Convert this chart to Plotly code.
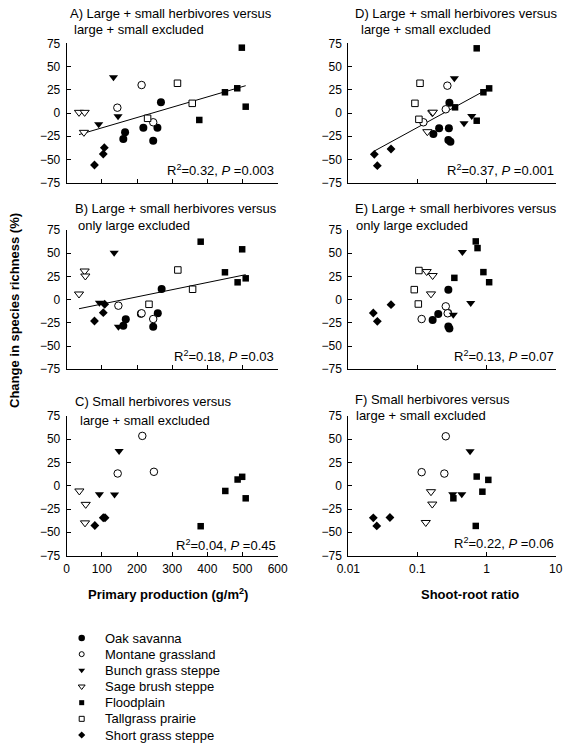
import math
import plotly.graph_objects as go

# ---------------- data ----------------
SITE_KEYS = ["oak", "mont", "bunch", "sage", "flood", "tall", "short"]
SITE_NAMES = ["Oak savanna", "Montane grassland", "Bunch grass steppe",
              "Sage brush steppe", "Floodplain", "Tallgrass prairie",
              "Short grass steppe"]

CHANGE_TICKS = [-75, -50, -25, 0, 25, 50, 75]
PROD_TICKS = [0, 100, 200, 300, 400, 500, 600]
RATIO_TICKS = [0.01, 0.1, 1, 10]
RATIO_TICK_TEXT = ["0.01", "0.1", "1", "10"]

# site of each point in panels A, B, D, E
SITES_26 = ["oak", "oak", "oak", "oak", "oak", "oak",
            "mont", "mont", "mont",
            "bunch", "bunch", "bunch",
            "sage", "sage", "sage",
            "flood", "flood", "flood", "flood", "flood",
            "tall", "tall", "tall",
            "short", "short", "short"]
# site of each point in panels C, F
SITES_17 = ["mont", "mont", "mont",
            "bunch", "bunch", "bunch",
            "sage", "sage", "sage",
            "flood", "flood", "flood", "flood", "flood",
            "short", "short", "short"]

a_prod = [166, 161, 218, 258, 246, 268, 144, 213, 246, 133, 91, 146, 35, 51, 49,
          498, 485, 450, 509, 377, 315, 357, 230, 79, 104, 107]
a_change = [-20.8, -28, -15.8, -15.8, -29.8, 11.5, 5.7, 30.1, -10, 38.4, -12, -3.5,
            0.7, 0.7, -20.8, 70.3, 26.6, 22.3, 6.8, -7.5, 32, 10.4, -5.7, -56, -44.1, -37.3]

b_prod = [168, 161, 211, 259, 246, 270, 147, 213, 246, 135, 93, 147, 51, 53, 35,
          381, 499, 450, 486, 509, 316, 358, 234, 79, 104, 108]
b_change = [-21.2, -28.1, -15.2, -14.7, -29.2, 11.5, -6.5, -14.7, -20.9, 50.6, -3.3, -29.2,
            30.9, 25.5, 6.1, 62.5, 54.3, 29.5, 18.7, 23, 32, 11.2, -5, -23, -14, -5]

c_prod = [215, 145, 248, 149, 93, 136, 36, 54, 52, 381, 451, 486, 499, 509, 80, 104, 109]
c_change = [53.6, 13.2, 15, 37.3, -9.2, -9.5, -5.6, -20, -39.9, -43.5, -5.6, 6.7, 9.6,
            -13.5, -42.7, -34.4, -34.4]

d_ratio = [0.170, 0.206, 0.290, 0.285, 0.28, 0.30, 0.122, 0.257, 0.271, 0.342, 0.472, 0.61,
           0.164, 0.167, 0.139, 0.72, 0.90, 1.09, 0.35, 0.72, 0.109, 0.092, 0.105,
           0.0238, 0.0263, 0.0415]
d_change = [-22.6, -16.5, 11.1, -16.5, -29, -30.9, -10, 4, 29.4, 37.3, -11.1, -3.2,
            0.3, 0.9, -20.1, 69.6, 22.3, 26.5, 6.1, -8.3, 32, 10.4, -6.8, -44.5, -56.7, -38.7]

e_ratio = [0.28, 0.20, 0.166, 0.28, 0.29, 0.278, 0.257, 0.274, 0.115, 0.447, 0.59, 0.33,
           0.136, 0.166, 0.157, 0.698, 0.74, 0.90, 1.09, 0.342, 0.105, 0.090, 0.103,
           0.023, 0.0263, 0.0415]
e_change = [10.8, -15.5, -22, -28.9, -31, -14.3, -7.2, -14.7, -20.9, 51.3, -3.6, -16.2,
            30.3, 26, 6.2, 62.8, 55.6, 29.7, 18.8, 23.5, 31.4, 10.8, -4.7, -14.4, -23.4, -5.4]

f_ratio = [0.257, 0.115, 0.245, 0.577, 0.438, 0.324, 0.157, 0.164, 0.132, 0.72, 1.06, 0.87,
           0.331, 0.698, 0.023, 0.0258, 0.040]
f_change = [53.2, 14.6, 13.1, 37, -9.2, -9.2, -6.4, -19.7, -39.5, 9.9, 6.3, -6.4, -13.5,
            -43.2, -34.5, -43.2, -34.1]

# fitted regressions: (intercept, slope); D is fitted against log10(ratio)
FIT_A = (-27.1, 0.111)
FIT_B = (-12.5, 0.0775)
FIT_D = (25.1, 40.66)

STATS = {
    "A": "R<sup>2</sup>=0.32, <i>P</i> =0.003",
    "B": "R<sup>2</sup>=0.18, <i>P</i> =0.03",
    "C": "R<sup>2</sup>=0.04, <i>P</i> =0.45",
    "D": "R<sup>2</sup>=0.37, <i>P</i> =0.001",
    "E": "R<sup>2</sup>=0.13, <i>P</i> =0.07",
    "F": "R<sup>2</sup>=0.22, <i>P</i> =0.06",
}
TITLES = {
    "A": ("A) Large + small herbivores versus", "large + small excluded"),
    "B": ("B) Large + small herbivores versus", "only large excluded"),
    "C": ("C) Small herbivores versus", "large + small excluded"),
    "D": ("D) Large + small herbivores versus", "large + small excluded"),
    "E": ("E) Large + small herbivores versus", "only large excluded"),
    "F": ("F) Small herbivores versus", "large + small excluded"),
}

# ---------------- styling / layout ----------------
W, H = 564, 744
FONT = "Arial, Liberation Sans, sans-serif"


def px(x):
    return x / W


def py(y):
    return 1 - y / H


STYLE = {
    "oak": dict(symbol="circle", size=8, fill=True, leg=6.5),
    "mont": dict(symbol="circle", size=7.5, fill=False, leg=5),
    "bunch": dict(symbol="triangle-down", size=8, fill=True, leg=6),
    "sage": dict(symbol="triangle-down", size=8, fill=False, leg=6),
    "flood": dict(symbol="square", size=6.5, fill=True, leg=5),
    "tall": dict(symbol="square", size=6.5, fill=False, leg=5),
    "short": dict(symbol="diamond", size=6.8, fill=True, leg=5.5),
}


def marker(key, size=None):
    st = STYLE[key]
    return dict(symbol=st["symbol"], size=size or st["size"],
                color="black" if st["fill"] else "white",
                line=dict(color="black", width=0 if st["fill"] else 1))


COLS = {"L": (66.7, 277.7), "R": (348.3, 555.7)}
ROWS = {0: (43.3, 182.7), 1: (230.1, 369.2), 2: (416.0, 555.5)}

PANELS = [
    # name, col, row, sites, x, y, log-x, fit, labelled x ticks
    ("A", "L", 0, SITES_26, a_prod, a_change, False, FIT_A, False),
    ("B", "L", 1, SITES_26, b_prod, b_change, False, FIT_B, False),
    ("C", "L", 2, SITES_17, c_prod, c_change, False, None, True),
    ("D", "R", 0, SITES_26, d_ratio, d_change, True, FIT_D, False),
    ("E", "R", 1, SITES_26, e_ratio, e_change, True, None, False),
    ("F", "R", 2, SITES_17, f_ratio, f_change, True, None, True),
]

TITLE_POS = {
    "A": ((68.0, 13.3), (71.7, 30.0)),
    "B": ((72.7, 208.3), (76.0, 225.0)),
    "C": ((72.7, 401.7), (78.3, 420.0)),
    "D": ((352.7, 13.3), (359.3, 30.0)),
    "E": ((352.7, 208.3), (354.0, 226.0)),
    "F": ((352.7, 399.0), (354.0, 416.0)),
}
STAT_POS = {"A": (276, 170), "B": (276, 355.7), "C": (278, 545),
            "D": (556, 170), "E": (556, 355.7), "F": (556, 543)}

fig = go.Figure()
layout = {}
annotations = []

axis_common = dict(showline=True, linecolor="black", linewidth=1, ticks="inside",
                   ticklen=4, tickwidth=1, tickcolor="black", showgrid=False,
                   zeroline=False, automargin=False,
                   tickfont=dict(size=12, color="black", family=FONT))

for i, (name, col, row, sites, xs, ys, logx, fit, xlabels) in enumerate(PANELS, start=1):
    xa = "x" if i == 1 else f"x{i}"
    ya = "y" if i == 1 else f"y{i}"
    x0, x1 = COLS[col]
    y0, y1 = ROWS[row]
    xaxis = dict(axis_common, domain=[px(x0), px(x1)], anchor=ya,
                 showticklabels=xlabels, ticklabelstandoff=2)
    if logx:
        xaxis.update(type="log", range=[-2, 1], tickvals=RATIO_TICKS,
                     ticktext=RATIO_TICK_TEXT)
    else:
        xaxis.update(range=[0, 600], tickvals=PROD_TICKS)
    yaxis = dict(axis_common, domain=[py(y1), py(y0)], anchor=xa,
                 range=[-75, 75], tickvals=CHANGE_TICKS, ticklabelstandoff=3)
    layout["xaxis" if i == 1 else f"xaxis{i}"] = xaxis
    layout["yaxis" if i == 1 else f"yaxis{i}"] = yaxis

    if fit is not None:
        lo, hi = min(xs), max(xs)
        if logx:
            fy = [fit[0] + fit[1] * math.log10(v) for v in (lo, hi)]
        else:
            fy = [fit[0] + fit[1] * v for v in (lo, hi)]
        fig.add_trace(go.Scatter(x=[lo, hi], y=fy, mode="lines",
                                 line=dict(color="black", width=1),
                                 xaxis=xa, yaxis=ya, showlegend=False,
                                 hoverinfo="skip"))

    for key in SITE_KEYS:
        px_ = [x for x, s in zip(xs, sites) if s == key]
        py_ = [y for y, s in zip(ys, sites) if s == key]
        if not px_:
            continue
        fig.add_trace(go.Scatter(x=px_, y=py_, mode="markers", marker=marker(key),
                                 xaxis=xa, yaxis=ya, showlegend=False,
                                 cliponaxis=False))

    (t1x, t1y), (t2x, t2y) = TITLE_POS[name]
    for txt, tx, ty in ((TITLES[name][0], t1x, t1y), (TITLES[name][1], t2x, t2y)):
        annotations.append(dict(text=txt, x=px(tx), y=py(ty), xref="paper",
                                yref="paper", xanchor="left", yanchor="middle",
                                showarrow=False, font=dict(size=13, color="black")))
    sx, sy = STAT_POS[name]
    annotations.append(dict(text=STATS[name], x=px(sx), y=py(sy), xref="paper",
                            yref="paper", xanchor="right", yanchor="middle",
                            showarrow=False, font=dict(size=13, color="black")))

# axis titles
annotations.append(dict(text="<b>Primary production (g/m<sup>2</sup>)</b>",
                        x=px(168), y=py(594), xref="paper", yref="paper",
                        xanchor="center", yanchor="middle", showarrow=False,
                        font=dict(size=13, color="black")))
annotations.append(dict(text="<b>Shoot-root ratio</b>",
                        x=px(470), y=py(594), xref="paper", yref="paper",
                        xanchor="center", yanchor="middle", showarrow=False,
                        font=dict(size=13, color="black")))
annotations.append(dict(text="<b>Change in species richness (%)</b>",
                        x=px(14), y=py(311), xref="paper", yref="paper",
                        xanchor="center", yanchor="middle", textangle=-90,
                        showarrow=False, font=dict(size=13, color="black")))

# legend drawn on its own hidden axes
rows = list(range(len(SITE_KEYS)))
for key, r in zip(SITE_KEYS, rows):
    fig.add_trace(go.Scatter(x=[0], y=[r], mode="markers",
                             marker=marker(key, STYLE[key]["leg"]),
                             xaxis="x7", yaxis="y7", showlegend=False,
                             cliponaxis=False))
for name, r in zip(SITE_NAMES, rows):
    annotations.append(dict(text=name, x=1, y=r, xref="x7", yref="y7",
                            xanchor="left", yanchor="middle", showarrow=False,
                            font=dict(size=13, color="black")))
layout["xaxis7"] = dict(domain=[px(81.7), px(103.3)], range=[0, 1], visible=False,
                        anchor="y7", automargin=False)
layout["yaxis7"] = dict(domain=[py(735), py(638)], range=[6, 0], visible=False,
                        anchor="x7", automargin=False)

fig.update_layout(**layout)
fig.update_layout(width=W, height=H, margin=dict(l=0, r=0, t=0, b=0),
                  paper_bgcolor="white", plot_bgcolor="white",
                  font=dict(family=FONT, color="black", size=12),
                  annotations=annotations, showlegend=False)

fig.write_html("out.html")
